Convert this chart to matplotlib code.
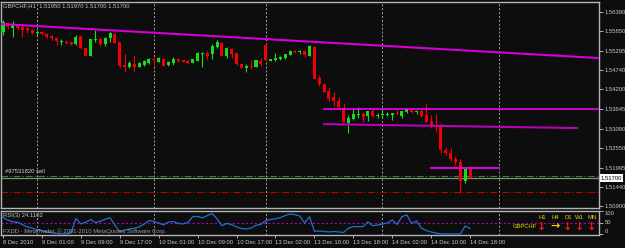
import matplotlib
matplotlib.use("Agg")
import matplotlib.pyplot as plt
import numpy as np

# GBPCHF H1 candles, 8 Dec 2010 17:00 .. 14 Dec 2010 18:00
opens = [1.5582, 1.5607, 1.5593, 1.5602, 1.5595, 1.5592, 1.5587, 1.5580, 1.5583, 1.5576,
         1.5571, 1.5564, 1.5554, 1.5555, 1.5553, 1.5547, 1.5571, 1.5538, 1.5515, 1.5559,
         1.5561, 1.5547, 1.5564, 1.5576, 1.5554, 1.5489, 1.5484, 1.5491, 1.5484, 1.5489,
         1.5494, 1.5506, 1.5498, 1.5505, 1.5489, 1.5495, 1.5505, 1.5503, 1.5501, 1.5495,
         1.5501, 1.5520, 1.5523, 1.5519, 1.5540, 1.5552, 1.5514, 1.5534, 1.5522, 1.5492,
         1.5481, 1.5486, 1.5484, 1.5501, 1.5545, 1.5501, 1.5503, 1.5505, 1.5508, 1.5517,
         1.5528, 1.5526, 1.5528, 1.5514, 1.5540, 1.5451, 1.5434, 1.5415, 1.5398, 1.5387,
         1.5367, 1.5326, 1.5336, 1.5349, 1.5351, 1.5345, 1.5359, 1.5345, 1.5349, 1.5349,
         1.5348, 1.5353, 1.5345, 1.5357, 1.5362, 1.5355, 1.5359, 1.5348, 1.5331, 1.5320,
         1.5314, 1.5249, 1.5242, 1.5223, 1.5216, 1.5162, 1.5195]
highs = [1.5616, 1.5610, 1.5613, 1.5604, 1.5599, 1.5596, 1.5589, 1.5587, 1.5585, 1.5578,
         1.5572, 1.5565, 1.5562, 1.5559, 1.5554, 1.5572, 1.5572, 1.5538, 1.5563, 1.5587,
         1.5569, 1.5569, 1.5583, 1.5578, 1.5555, 1.5521, 1.5499, 1.5517, 1.5497, 1.5502,
         1.5509, 1.5512, 1.5510, 1.5506, 1.5500, 1.5512, 1.5509, 1.5504, 1.5505, 1.5506,
         1.5526, 1.5525, 1.5528, 1.5547, 1.5559, 1.5554, 1.5540, 1.5536, 1.5523, 1.5493,
         1.5491, 1.5503, 1.5504, 1.5509, 1.5547, 1.5507, 1.5522, 1.5514, 1.5520, 1.5530,
         1.5530, 1.5531, 1.5531, 1.5544, 1.5541, 1.5461, 1.5435, 1.5428, 1.5412, 1.5399,
         1.5381, 1.5348, 1.5364, 1.5370, 1.5357, 1.5360, 1.5367, 1.5353, 1.5364, 1.5355,
         1.5354, 1.5362, 1.5360, 1.5367, 1.5363, 1.5362, 1.5364, 1.5382, 1.5348, 1.5351,
         1.5326, 1.5258, 1.5254, 1.5232, 1.5223, 1.5196, 1.5197]
lows = [1.5573, 1.5590, 1.5568, 1.5587, 1.5568, 1.5579, 1.5576, 1.5573, 1.5573, 1.5566,
        1.5559, 1.5545, 1.5545, 1.5547, 1.5545, 1.5545, 1.5535, 1.5514, 1.5514, 1.5554,
        1.5542, 1.5543, 1.5554, 1.5550, 1.5483, 1.5470, 1.5480, 1.5470, 1.5483, 1.5487,
        1.5493, 1.5489, 1.5497, 1.5486, 1.5487, 1.5489, 1.5498, 1.5497, 1.5492, 1.5494,
        1.5500, 1.5484, 1.5505, 1.5505, 1.5536, 1.5513, 1.5509, 1.5509, 1.5489, 1.5479,
        1.5470, 1.5477, 1.5483, 1.5487, 1.5501, 1.5500, 1.5501, 1.5503, 1.5506, 1.5516,
        1.5523, 1.5519, 1.5512, 1.5513, 1.5448, 1.5430, 1.5413, 1.5387, 1.5374, 1.5364,
        1.5328, 1.5296, 1.5334, 1.5339, 1.5327, 1.5332, 1.5341, 1.5339, 1.5339, 1.5345,
        1.5334, 1.5349, 1.5339, 1.5353, 1.5353, 1.5351, 1.5341, 1.5327, 1.5312, 1.5301,
        1.5240, 1.5235, 1.5218, 1.5207, 1.5127, 1.5155, 1.5170]
closes = [1.5610, 1.5596, 1.5602, 1.5592, 1.5587, 1.5587, 1.5578, 1.5583, 1.5575, 1.5568,
          1.5564, 1.5556, 1.5556, 1.5552, 1.5547, 1.5569, 1.5536, 1.5515, 1.5562, 1.5562,
          1.5547, 1.5566, 1.5578, 1.5551, 1.5485, 1.5484, 1.5494, 1.5482, 1.5495, 1.5500,
          1.5507, 1.5503, 1.5508, 1.5487, 1.5498, 1.5505, 1.5501, 1.5498, 1.5495, 1.5505,
          1.5522, 1.5523, 1.5515, 1.5542, 1.5554, 1.5514, 1.5536, 1.5519, 1.5491, 1.5480,
          1.5486, 1.5484, 1.5503, 1.5491, 1.5503, 1.5505, 1.5508, 1.5512, 1.5519, 1.5528,
          1.5525, 1.5528, 1.5518, 1.5542, 1.5449, 1.5434, 1.5413, 1.5393, 1.5388, 1.5370,
          1.5329, 1.5338, 1.5351, 1.5351, 1.5343, 1.5359, 1.5345, 1.5348, 1.5351, 1.5351,
          1.5353, 1.5350, 1.5359, 1.5364, 1.5355, 1.5359, 1.5345, 1.5328, 1.5317, 1.5314,
          1.5249, 1.5242, 1.5223, 1.5216, 1.5162, 1.5195, 1.5170]
rsi = [72, 60, 53, 51, 41, 30, 26, 19, 14, 9,
       6, 3, 1, 0.5, 5, 68, 44, 51, 63, 50,
       55, 64, 71, 39, 10, 17, 22, 25, 31, 43,
       58, 55, 47, 40, 52, 54, 46, 44, 50, 76,
       76, 70, 80, 89, 66, 36, 46, 41, 31, 24,
       22, 26, 38, 42, 58, 63, 66, 71, 80, 87,
       84, 78, 48, 75, 12, 13, 11, 9, 11, 9,
       7, 25, 32, 32, 32, 53, 36, 39, 43, 48,
       61, 42, 75, 83, 46, 57, 26, 15, 9, 4,
       1, 0.5, 0.3, 0.2, 0.1, 35, 24.11]

time_labels = ["8 Dec 2010", "9 Dec 01:00", "9 Dec 09:00", "9 Dec 17:00", "10 Dec 01:00",
               "10 Dec 09:00", "10 Dec 17:00", "13 Dec 02:00", "13 Dec 10:00",
               "13 Dec 18:00", "14 Dec 02:00", "14 Dec 10:00", "14 Dec 18:00"]
label_bars = list(range(0, 97, 8))
day_breaks = [7, 31, 54, 78, 102]
price_ticks = [1.56390, 1.55850, 1.55295, 1.54740, 1.54200, 1.53645,
               1.53090, 1.52550, 1.51995, 1.51440, 1.50900]

# drawn objects
trend_bars, trend_prices = [0, 96], [1.5604, 1.5529]
res_start, res_price = 66, 1.5364
chan_bars, chan_prices = [66, 118], [1.5322, 1.5311]
box_bars, box_price = [88, 102], 1.5198
order_price, bid_price, sl_price = 1.5177, 1.5170, 1.5130
rsi_level = 50

W, H = 625, 248
BG = "#0d0d0d"
GRAY = "#c8c8c8"
plt.rcParams["font.family"] = ["Liberation Sans", "DejaVu Sans"]
FS = 4.2

fig = plt.figure(figsize=(W / 100, H / 100), dpi=100, facecolor=BG)

def px(x, y):
    return x / W, 1 - y / H

ax = fig.add_axes([1 / W, 40 / H, 598 / W, 206 / H], facecolor=BG)
axr = fig.add_axes([1 / W, 13.5 / H, 598 / W, 24 / H], facecolor=BG, sharex=ax)

o, h, l, c = map(np.array, (opens, highs, lows, closes))
bars = np.arange(len(o))
up = c >= o
col = np.where(up, "#1ed81e", "#f00000")

ax.vlines(bars, l, h, colors=col, lw=0.8, zorder=3)
body_lo = np.minimum(o, c)
body_h = np.maximum(np.abs(c - o), 0.0003)
ax.bar(bars, body_h, bottom=body_lo, width=0.62, color=col, lw=0, zorder=4)

ax.set_xlim(-0.41, 122.5)
ax.set_ylim(1.50856, 1.56664)

for b in day_breaks:
    for a in (ax, axr):
        a.axvline(b, color="#a0a0a0", lw=0.7, ls=(0, (2, 2)), zorder=1)

# trend objects
ax.axline((trend_bars[0], trend_prices[0]), (trend_bars[1], trend_prices[1]),
          color="#d400d4", lw=1.5, zorder=5)
ax.plot([res_start, 122.5], [res_price, res_price], color="#ff00ff", lw=1.1, zorder=5)
ax.plot(chan_bars, chan_prices, color="#b800b8", lw=1.5, zorder=5)
ax.plot(box_bars, [box_price, box_price], color="#e000e0", lw=1.4, zorder=5)

ax.axhline(order_price, color="#2a8a2a", lw=0.8, ls=(0, (6, 2, 1, 2)), zorder=2)
ax.axhline(bid_price, color="#8a8a8a", lw=0.9, zorder=2)
ax.axhline(sl_price, color="#c00000", lw=0.8, ls=(0, (6, 2, 1, 2)), zorder=2)

# price axis
ax.yaxis.tick_right()
ax.set_yticks(price_ticks)
ax.set_yticklabels([f"{p:.5f}" for p in price_ticks])
ax.tick_params(axis="y", colors=GRAY, labelsize=FS, length=3, width=0.6, pad=1)
ax.tick_params(axis="x", bottom=False, labelbottom=False)
ax.text(1.003, bid_price, f"{bid_price:.5f}", transform=ax.get_yaxis_transform(),
        fontsize=FS, color="black", va="center", ha="left",
        bbox=dict(facecolor="white", edgecolor="none", pad=0.8))

for a in (ax, axr):
    for s in a.spines.values():
        s.set_color("#b4b4b4")
        s.set_linewidth(1.0)

# RSI sub-window
axr.plot(bars, rsi, color="#2070d0", lw=0.9, zorder=3)
axr.axhline(rsi_level, color="#b000b0", lw=0.8, ls=(0, (2, 2)), zorder=2)
axr.set_ylim(-2, 102)
axr.yaxis.tick_right()
axr.set_yticks([100, 50, 0])
axr.set_yticklabels(["100", "50", "0"])
for t, va in zip(axr.get_yticklabels(), ["top", "center", "bottom"]):
    t.set_verticalalignment(va)
axr.tick_params(axis="y", colors=GRAY, labelsize=FS, length=3, width=0.6, pad=1)
axr.set_xticks(label_bars)
axr.set_xticklabels(time_labels, ha="left")
axr.tick_params(axis="x", colors=GRAY, labelsize=FS, length=2, width=0.6, pad=2)

# texts
fig.text(*px(3, 6), "GBPCHF,H1  1.51950 1.51970 1.51700 1.51700",
         color=GRAY, fontsize=FS, va="center", ha="left")
fig.text(*px(5, 171.5), "#97531820 sell", color="#d8d8d8", fontsize=FS, va="center")
fig.text(*px(3, 216), "RSI(3) 24.1102", color=GRAY, fontsize=FS, va="center")
fig.text(*px(3, 231), "FXDD - MetaTrader, \u00a9 2001-2010 MetaQuotes Software Corp.",
         color="#a0a0a0", fontsize=FS, va="center")

tf_names = ["H1", "H4", "D1", "W1", "MN"]
tf_arrows = ["\u2193", "\u2192", "\u2193", "\u2193", "\u2193"]
tf_cols = ["#ff1010", "#f0d000", "#ff1010", "#ff1010", "#ff1010"]
tf_x = [542, 555, 568, 579.5, 592]
for name, arr, cc, xx in zip(tf_names, tf_arrows, tf_cols, tf_x):
    fig.text(*px(xx, 217.5), name, color="#d8d800", fontsize=FS, ha="center", va="center")
    fig.text(*px(xx, 226.5), arr, color=cc, fontsize=8, ha="center", va="center",
             fontweight="bold", family="DejaVu Sans")
fig.text(*px(513, 226.5), "GBPCHF", color="#d8d800", fontsize=FS, va="center")

fig.savefig("out.png", dpi=100, facecolor=BG)
